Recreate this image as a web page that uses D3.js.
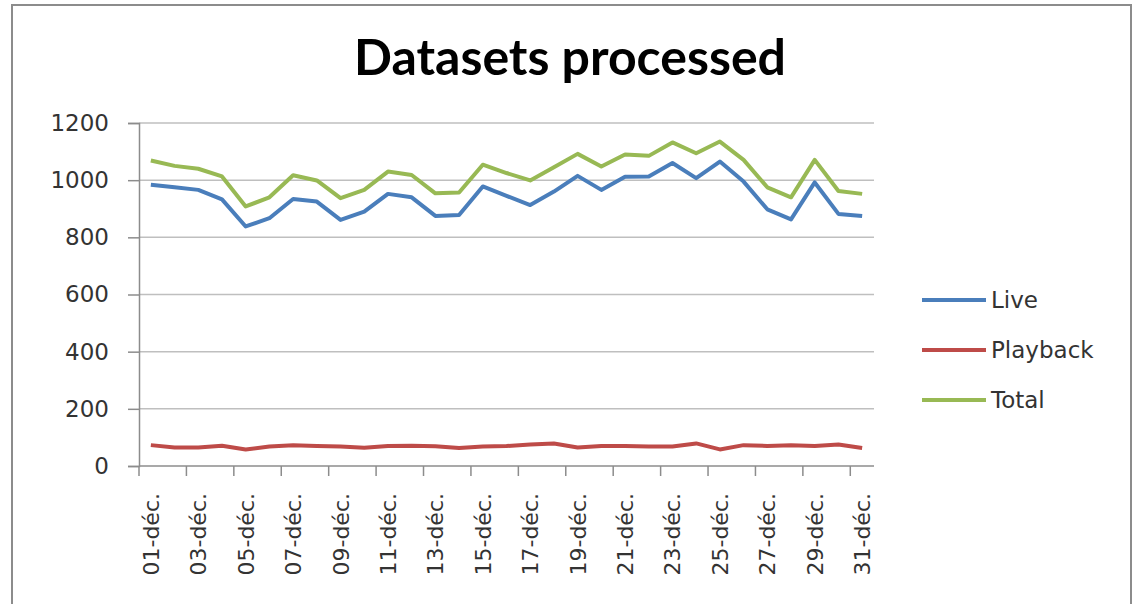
<!DOCTYPE html>
<html>
<head>
<meta charset="utf-8">
<script src="https://cdn.jsdelivr.net/npm/d3@7"></script>
<style>
  body { margin: 0; background: #fff; }
  svg { display: block; }
</style>
</head>
<body>
<svg id="chart" width="1133" height="604"></svg>
<script>
  // Data
  const days = d3.range(1, 32).map((d) => String(d).padStart(2, "0") + "-déc.");
  const live = [984, 975, 966, 933, 838, 867, 934, 925, 861, 890,
                952, 940, 875, 878, 978, 945, 913, 960, 1015, 966,
                1012, 1013, 1060, 1007, 1065, 995, 898, 863, 992, 882, 875];
  const playback = [73, 65, 65, 71, 58, 68, 73, 70, 68, 64,
                    70, 71, 69, 63, 68, 70, 75, 79, 65, 70,
                    70, 68, 68, 79, 58, 73, 70, 73, 70, 75, 63];
  const total = [1069, 1050, 1040, 1013, 908, 940, 1017, 999, 937, 966,
                 1030, 1018, 954, 957, 1054, 1025, 999, 1045, 1092, 1048,
                 1090, 1085, 1132, 1094, 1135, 1071, 975, 940, 1071, 962, 952];
  const yTicks = [0, 200, 400, 600, 800, 1000, 1200];

  const series = [
    { name: "Live", values: live, color: "#4A7EBB" },
    { name: "Playback", values: playback, color: "#BE4B48" },
    { name: "Total", values: total, color: "#98B954" }
  ];

  // Layout
  const marginLeft = 139;
  const plotRight = 874;
  const plotTop = 123;
  const plotBottom = 466;
  const font = "'DejaVu Sans', sans-serif";

  const svg = d3.select("#chart");

  // chart frame
  svg.append("rect")
    .attr("x", 12).attr("y", 5)
    .attr("width", 1119).attr("height", 640)
    .attr("fill", "#fff")
    .attr("stroke", "#8c8c8c")
    .attr("stroke-width", 2);

  // Title
  svg.append("text")
    .attr("x", 570).attr("y", 75)
    .attr("text-anchor", "middle")
    .attr("font-family", "Lato, sans-serif")
    .attr("font-weight", "bold")
    .attr("font-size", 50)
    .attr("fill", "#000")
    .text("Datasets processed");

  // Scales
  const x = d3.scaleBand()
    .domain(days)
    .range([marginLeft, plotRight]);

  const y = d3.scaleLinear()
    .domain([0, 1200])
    .range([plotBottom, plotTop]);

  // Gridlines
  svg.append("g")
    .selectAll("line")
    .data(yTicks.slice(1))
    .enter()
    .append("line")
    .attr("x1", marginLeft).attr("x2", plotRight)
    .attr("y1", (d) => y(d)).attr("y2", (d) => y(d))
    .attr("stroke", "#bfbfbf")
    .attr("stroke-width", 1.5);

  // Y axis
  const yAxis = svg.append("g")
    .attr("transform", `translate(${marginLeft},0)`)
    .call(d3.axisLeft(y).tickValues(yTicks).tickFormat(d3.format("d")).tickSize(11).tickPadding(19));
  yAxis.select(".domain").attr("stroke", "#8c8c8c").attr("stroke-width", 1.5);
  yAxis.selectAll(".tick line").attr("stroke", "#8c8c8c").attr("stroke-width", 1.5);
  yAxis.selectAll("text")
    .attr("font-family", font)
    .attr("font-size", 23)
    .attr("fill", "#333");

  // X axis: ticks at category boundaries every 2 days
  const bw = x.bandwidth();
  const xAxisG = svg.append("g")
    .attr("transform", `translate(0,${plotBottom})`);
  xAxisG.append("line")
    .attr("x1", marginLeft).attr("x2", plotRight)
    .attr("stroke", "#8c8c8c").attr("stroke-width", 1.5);
  xAxisG.selectAll("line.tk")
    .data(days.filter((d, i) => i % 2 === 0))
    .enter()
    .append("line")
    .attr("class", "tk")
    .attr("x1", (d) => x(d)).attr("x2", (d) => x(d))
    .attr("y1", 0).attr("y2", 10)
    .attr("stroke", "#8c8c8c").attr("stroke-width", 1.5);
  xAxisG.selectAll("text")
    .data(days.filter((d, i) => i % 2 === 0))
    .enter()
    .append("text")
    .attr("transform", (d) => `translate(${x(d) + bw / 2 + 8},27) rotate(-90)`)
    .attr("text-anchor", "end")
    .attr("font-family", font)
    .attr("font-size", 22)
    .attr("fill", "#333")
    .text((d) => d);

  // Lines
  const line = d3.line()
    .x((d, i) => x(days[i]) + bw / 2)
    .y((d) => y(d));

  svg.selectAll("path.series")
    .data(series)
    .enter()
    .append("path")
    .attr("class", "series")
    .attr("fill", "none")
    .attr("stroke", (d) => d.color)
    .attr("stroke-width", 4)
    .attr("stroke-linejoin", "round")
    .attr("d", (d) => line(d.values));

  // Legend
  const legend = svg.append("g");
  series.forEach((s, i) => {
    const ly = 300 + i * 50;
    legend.append("line")
      .attr("x1", 922).attr("x2", 986)
      .attr("y1", ly).attr("y2", ly)
      .attr("stroke", s.color)
      .attr("stroke-width", 4);
    legend.append("text")
      .attr("x", 991).attr("y", ly + 8)
      .attr("font-family", font)
      .attr("font-size", 23)
      .attr("fill", "#333")
      .text(s.name);
  });
</script>
</body>
</html>
